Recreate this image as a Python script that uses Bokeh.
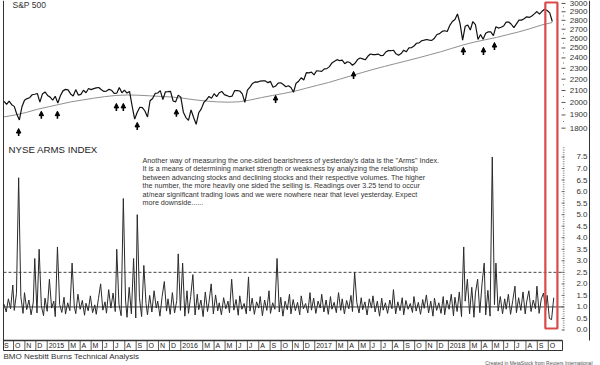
import pandas as pd
from datetime import datetime
from bokeh.plotting import figure
from bokeh.models import Range1d, LogScale, ColumnDataSource, Arrow, NormalHead
from bokeh.core.properties import value
from bokeh.embed import file_html
from bokeh.resources import INLINE

# ---------------- data ----------------
# S&P 500 weekly closes (Fridays from 2014-09-05), weekly lows used where the chart dips
spx_close = [
    2008, 1985, 2011, 1982, 1968, 1906, 1862, 1965, 2018, 2032, 2039, 2064, 2068, 2075, 2002, 2071, 2088,
    2058, 2044, 2019, 2051, 1995, 2055, 2097, 2110, 2105, 2071, 2053, 2108, 2061, 2067, 2102, 2081, 2117,
    2108, 2116, 2123, 2126, 2107, 2092, 2095, 2110, 2102, 2076, 2077, 2127, 2080, 2104, 2078, 2092, 1971,
    1868, 1921, 1961, 1958, 1931, 1884, 2014, 2033, 2075, 2079, 2099, 2023, 2089, 2090, 2092, 2012, 2005, 2061,
    2044, 1922, 1880, 1859, 1940, 1880, 1829, 1917, 1948, 2000, 2022, 2050, 2035, 2073, 2048, 2081, 2092,
    2065, 2057, 2047, 2052, 2099, 2099, 2096, 2071, 2001, 2103, 2130, 2162, 2175, 2174, 2183, 2184, 2184,
    2169, 2180, 2128, 2139, 2165, 2168, 2153, 2133, 2141, 2126, 2085, 2164, 2182, 2213, 2192, 2259, 2258,
    2264, 2239,
    2277, 2275, 2271, 2295, 2297, 2316, 2351, 2367, 2383, 2373, 2378, 2344, 2363, 2355, 2329, 2349, 2384,
    2399, 2391, 2382, 2416, 2439, 2432, 2433, 2438, 2423, 2425, 2459, 2473, 2472, 2477, 2441, 2426, 2443,
    2477, 2461, 2500, 2502, 2519, 2549, 2553, 2575, 2581, 2588, 2582, 2579, 2602, 2642, 2651, 2675, 2683, 2674,
    2743, 2786, 2810, 2873, 2762, 2581, 2732, 2747, 2691, 2786, 2752, 2588, 2641, 2590, 2656, 2670, 2670,
    2630, 2728, 2712, 2721, 2735, 2779, 2780, 2755, 2718, 2760, 2801, 2802, 2819, 2840, 2833, 2850, 2875,
    2902, 2872, 2905, 2930, 2914, 2886, 2786,
]

# long moving average, one reading per month (Sep 2014 .. Oct 2018)
spx_ma = [
    1885, 1900, 1920, 1945,
    1965, 1985, 2005, 2020, 2035, 2048, 2058, 2062, 2060, 2055, 2050, 2045,
    2035, 2022, 2012, 2005, 2002, 2005, 2020, 2040, 2058, 2075, 2095, 2120,
    2145, 2170, 2200, 2230, 2260, 2290, 2318, 2345, 2372, 2400, 2430, 2460,
    2495, 2530, 2560, 2585, 2610, 2640, 2670, 2705, 2745, 2775,
]

# NYSE Arms index (TRIN), one reading every 4th session from 2014-09-05
trin = [
    1.12, 0.78, 1.35, 0.92, 1.95, 0.85, 1.58, 6.6, 1.45, 0.72,
    1.62, 0.88, 1.30, 0.66, 1.21, 3.1, 0.74, 3.5, 1.05, 0.62,
    1.38, 0.81, 2.2, 0.95, 1.25, 0.58, 3.6, 1.10, 0.76, 1.42,
    0.69, 1.18, 0.84, 2.9, 1.02, 0.71, 1.55, 0.90, 1.28, 0.64,
    1.16, 0.83, 1.48, 0.75, 1.09, 0.68, 1.36, 2.0, 0.86, 1.22,
    0.73, 1.75, 0.95, 1.60, 0.80, 3.5, 1.12, 0.62, 5.7, 1.30,
    0.55, 1.85, 0.70, 3.1, 0.52, 5.0, 1.40, 0.58, 2.8, 1.15,
    0.66, 1.50, 0.78, 1.7, 0.95, 1.25, 0.60, 1.45, 2.1, 0.82,
    1.35, 0.68, 1.62, 0.74, 1.28, 3.3, 0.85, 2.9, 0.60, 1.70,
    0.72, 1.45, 2.4, 0.65, 1.55, 0.88, 1.30, 0.58, 1.65, 0.80,
    1.20, 2.0, 0.70, 1.52, 0.83, 1.18, 0.66, 1.40, 0.92, 1.25,
    0.75, 2.2, 0.86, 1.32, 0.64, 1.48, 0.90, 1.15, 0.70, 2.3,
    0.82, 1.38, 0.68, 1.22, 0.95, 1.45, 0.62, 1.30, 0.85, 1.7,
    0.72, 1.18, 0.90, 3.1, 0.78, 1.42, 0.60, 1.25, 0.88, 1.55,
    0.70, 1.32, 0.84, 1.20, 0.66, 1.48, 0.92, 1.15, 0.74, 1.62,
    0.86, 1.38, 0.72, 1.25, 0.95, 1.55, 0.78, 1.30, 0.68, 1.45,
    0.90, 1.20, 0.75, 1.62, 0.85, 1.35, 0.70, 1.28, 0.92, 1.50,
    0.80, 2.5, 1.18, 0.74, 1.40, 0.88, 1.22, 0.65, 1.35, 0.95,
    1.48, 0.78, 1.25, 0.60, 1.38, 0.86, 1.18, 0.72, 1.30, 0.92,
    1.75, 0.70, 1.22, 0.84, 1.40, 0.66, 1.28, 0.90, 1.15, 0.76,
    1.45, 0.82, 1.20, 0.68, 1.32, 0.94, 1.52, 0.74, 1.25, 0.60,
    1.38, 0.85, 1.18, 0.72, 1.45, 0.66, 1.30, 0.90, 1.55, 0.62,
    1.42, 0.80, 1.65, 0.58, 3.6, 1.25, 2.2, 0.70, 1.85, 0.55,
    1.60, 2.2, 0.75, 2.0, 2.9, 0.65, 1.72, 0.60, 7.5, 1.10,
    2.9, 0.82, 1.45, 0.70, 1.35, 0.90, 1.55, 0.68, 1.28, 1.9,
    0.75, 1.40, 0.85, 1.65, 0.70, 1.22, 1.7, 0.80, 1.30, 0.92,
    1.9, 0.72, 1.35, 1.6, 0.85, 1.5, 0.50, 0.45, 1.4,
]

# buy-signal arrows under the S&P line (date, price at arrow tip)
arrow_dates = ["2014-10-15", "2014-12-16", "2015-01-29", "2015-07-09", "2015-07-28", "2015-09-04",
               "2015-12-20", "2016-09-16", "2017-04-17", "2018-02-11", "2018-04-07", "2018-05-07"]
arrow_tip = [1797, 1930, 1930, 1992, 1992, 1843, 1944, 2058, 2271, 2506, 2506, 2556]

spx_ticks = [1800, 1900, 2000, 2100, 2200, 2300, 2400, 2500, 2600, 2700, 2800, 2900, 3000]
trin_ticks = [0.0, 0.5, 1.0, 1.5, 2.0, 2.5, 3.0, 3.5, 4.0, 4.5, 5.0, 5.5, 6.0, 6.5, 7.0, 7.5]
month_letters = ["J", "F", "M", "A", "M", "J", "J", "A", "S", "O", "N", "D"]
trin_ref_lines = [1.0, 2.5]
highlight = ["2018-09-23", "2018-10-26"]

note_lines = [
    "Another way of measuring the one-sided bearishness of yesterday's data is the \"Arms\" Index.",
    "It is a means of determining market strength or weakness by analyzing the relationship",
    "between advancing stocks and declining stocks and their respective volumes. The higher",
    "the number, the more heavily one sided the selling is. Readings over 3.25 tend to occur",
    "at/near significant trading lows and we were nowhere near that level yesterday. Expect",
    "more downside......",
]

# ---------------- figure ----------------
FONT = "Liberation Sans"
spx_dates = pd.date_range("2014-09-05", periods=len(spx_close), freq="W-FRI")
ma_dates = pd.date_range("2014-09-05", "2018-10-12", periods=len(spx_ma))
trin_dates = pd.bdate_range("2014-09-05", periods=len(trin), freq="4B")

p = figure(width=600, height=365, x_axis_type="datetime",
           x_axis_location=None, y_axis_location=None,
           toolbar_location=None, output_backend="svg", min_border=0,
           x_range=Range1d(datetime(2014, 8, 26, 9, 36), datetime(2019, 2, 20, 17)),
           y_range=Range1d(-1.539, 14.284))
p.extra_y_ranges = {"spx": Range1d(680.8, 3036.6), "py": Range1d(365, 0)}
p.extra_y_scales = {"spx": LogScale()}
p.extra_x_ranges = {"px": Range1d(0, 600)}
p.grid.visible = False
p.outline_line_color = None
p.background_fill_color = "white"
p.border_fill_color = "white"

# frame lines (pixel layout)
p.segment(x0=[3, 589, 3, 3, 562], x1=[3, 589, 562, 562, 562],
          y0=[0, 0, 340, 350, 340], y1=[350, 340, 340, 350, 350],
          x_range_name="px", y_range_name="py", line_color="#333", line_width=[1, 1, 1.6, 1, 1])

# TRIN reference lines
p.segment(x0=[3], x1=[563], y0=[trin_ref_lines[0]], y1=[trin_ref_lines[0]],
          x_range_name="px", line_color="#444", line_width=1)
p.segment(x0=[3], x1=[563], y0=[trin_ref_lines[1]], y1=[trin_ref_lines[1]],
          x_range_name="px", line_color="#444", line_width=1, line_dash="3 2")

# series
p.line(ma_dates, spx_ma, y_range_name="spx", line_color="#8f8f8f", line_width=1)
p.line(spx_dates, spx_close, y_range_name="spx", line_color="#111", line_width=1.2)
p.line(trin_dates, trin, line_color="#2a2a2a", line_width=1.0)

# arrows
arr = ColumnDataSource(dict(x=pd.to_datetime(arrow_dates),
                            y1=arrow_tip,
                            y0=[t * 10 ** (-7.5 / 562) for t in arrow_tip]))
p.add_layout(Arrow(end=NormalHead(size=4.5, fill_color="black", line_color="black", line_width=1),
                   x_start="x", y_start="y0", x_end="x", y_end="y1", source=arr,
                   y_range_name="spx", line_color="black", line_width=1.6))

# highlight box
p.quad(left=[pd.Timestamp(highlight[0])], right=[pd.Timestamp(highlight[1])], top=[2], bottom=[328],
       y_range_name="py", fill_color=None, line_color="#d94a4a", line_width=2.2)

# right-side scale labels + ticks
p.text(x=[587] * len(spx_ticks), y=spx_ticks, text=[str(t) for t in spx_ticks],
       x_range_name="px", y_range_name="spx", text_align="right", text_baseline="middle",
       text_font=value(FONT), text_font_size="8px", text_color="#333")
p.segment(x0=[561] * len(spx_ticks), x1=[565] * len(spx_ticks), y0=spx_ticks, y1=spx_ticks,
          x_range_name="px", y_range_name="spx", line_color="#555", line_width=1)
half = [t + 50 for t in spx_ticks[:-1]]
p.segment(x0=[562.5] * len(half), x1=[563.5] * len(half), y0=half, y1=half,
          x_range_name="px", y_range_name="spx", line_color="#777", line_width=1)

p.text(x=[587] * len(trin_ticks), y=trin_ticks, text=["%.1f" % t for t in trin_ticks],
       x_range_name="px", text_align="right", text_baseline="middle",
       text_font=value(FONT), text_font_size="8px", text_color="#333")
minor = [i / 10 for i in range(0, 80)]
p.segment(x0=[562.3] * len(minor), x1=[564] * len(minor), y0=minor, y1=minor,
          x_range_name="px", line_color="#777", line_width=0.8)
p.segment(x0=[561] * len(trin_ticks), x1=[564] * len(trin_ticks), y0=trin_ticks, y1=trin_ticks,
          x_range_name="px", line_color="#555", line_width=0.8)

# date strip
months = pd.date_range("2014-09-01", "2018-10-01", freq="MS")
labels = [str(m.year) if m.month == 1 else ("" if m.month == 2 else month_letters[m.month - 1]) for m in months]
keep = [i for i, l in enumerate(labels) if l]
p.text(x=[months[i] + pd.Timedelta(days=4) for i in keep], y=[345.3] * len(keep),
       text=[labels[i] for i in keep], y_range_name="py",
       text_align="left", text_baseline="middle", text_font=value(FONT),
       text_font_size="7px", text_color="#222")
seps = [m for m in months[1:] if m.month != 2]
p.segment(x0=seps, x1=seps, y0=[340] * len(seps), y1=[350] * len(seps),
          y_range_name="py", line_color="#333", line_width=0.8)

# texts
p.text(x=[12], y=[4], text=["S&P 500"], x_range_name="px", y_range_name="py",
       text_baseline="alphabetic", text_font=value(FONT), text_font_size="8.5px", text_color="#333")
p.text(x=[8], y=[148.5], text=["NYSE ARMS INDEX"], x_range_name="px", y_range_name="py",
       text_baseline="middle", text_font=value(FONT), text_font_size="9.7px", text_color="#222")
p.text(x=[142] * len(note_lines), y=[160 + 8.4 * k for k in range(len(note_lines))], text=note_lines,
       x_range_name="px", y_range_name="py", text_baseline="middle",
       text_font=value(FONT), text_font_size="7.2px", text_color="#333")
p.text(x=[3], y=[356], text=["BMO Nesbitt Burns Technical Analysis"], x_range_name="px", y_range_name="py",
       text_baseline="middle", text_font=value(FONT), text_font_size="8px", text_color="#333")
p.text(x=[592], y=[362], text=["Created in MetaStock from Reuters International"], x_range_name="px",
       y_range_name="py", text_align="right", text_baseline="middle",
       text_font=value(FONT), text_font_size="5px", text_color="#555")

open("out.html", "w").write(file_html(p, INLINE))
